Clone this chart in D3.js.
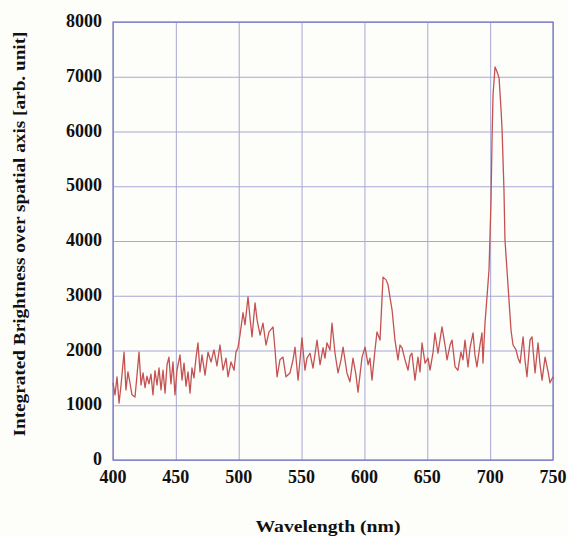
<!DOCTYPE html>
<html>
<head>
<meta charset="utf-8">
<script src="https://cdn.jsdelivr.net/npm/d3@7"></script>
<style>
  body { margin: 0; background: #fdfdfa; }
  svg { display: block; }
  .tick-label { font-family: "Times New Roman", "Liberation Serif", Times, serif; font-weight: bold; font-size: 18px; fill: #111; }
  .axis-title { font-family: "Times New Roman", "Liberation Serif", Times, serif; font-weight: bold; font-size: 16px; fill: #111; }
</style>
</head>
<body>
<div id="chart"></div>
<script>
var svgWidth = 568;
var svgHeight = 536;

var margin = { top: 22, right: 15, bottom: 76, left: 113 };
var width = svgWidth - margin.left - margin.right;
var height = svgHeight - margin.top - margin.bottom;

// data
var wavelength = [400,401.6,403.2,404.8,406.4,408.8,410.3,411.9,413.5,415.1,417.5,419.1,420.7,422.3,423.9,425.5,427,428.6,430.2,431.8,433.4,435,436.6,438.2,439.8,441.4,443,444.5,446.1,447.7,449.3,450.9,453.3,454.9,456.5,458.1,459.7,461.3,462.8,464.4,466,467.6,469.2,
  470.8,473.2,475.6,478,480.3,482.7,485.1,487.5,489.9,491.5,493.9,496.3,497.8,499.4,501,503.4,505,507.4,509,510.6,513,514.6,517,519.3,521.7,524.1,527.3,528.9,530.5,532.8,535.2,
  537.6,540.8,543.2,544.8,547.2,548.8,550.3,552.7,554.3,556.7,559.1,562.3,564.7,567.1,568.6,570.2,572.6,574.2,576.6,579,581.4,583,586.1,588.5,590.9,593.3,594.9,598.1,600.5,
  602.9,604.4,606,608.4,610,612.4,614.8,617.2,618.8,620.4,622,624.3,626.7,628.3,629.9,632.3,634.7,636.3,637.8,640.2,642.6,644.2,645.8,648.2,650.6,652.2,654.6,656.1,658.5,660.1,661.7,664.1,665.7,668.1,669.7,672.1,
  674.4,676.8,678.4,680,682.4,684,686.4,687.9,689.5,691.9,693.5,694.3,695.9,697.5,699.1,700.7,701.5,702.3,703.9,705.5,707.1,708.7,709.5,711,711.8,713.4,715,716.6,718.2,720.6,722.2,723.8,726.2,727.7,729.3,731.7,733.3,735.7,738.1,739.7,741.3,743.7,746.1,747.6,750];

var brightness = [1410,1190,1520,1040,1370,1970,1280,1610,1410,1190,1150,1550,1970,1370,1590,1320,1530,1390,1570,1190,1630,1370,1680,1280,1640,1220,1740,1880,1390,1790,1190,1640,1920,1460,1770,1350,1610,1220,1680,1500,1860,2140,1610,
  1920,1550,1970,1790,2010,1720,2100,1640,1860,1520,1790,1640,1970,2050,2280,2690,2470,2980,2590,2250,2870,2560,2280,2500,2100,2340,2430,2010,1520,1830,1880,
  1520,1590,1830,2060,1460,1830,2230,1640,1860,1950,1680,2190,1740,2050,1860,2140,2010,2500,1950,1590,1830,2060,1590,1430,1860,1550,1240,1880,2060,
  1740,1860,1460,2010,2340,2190,3340,3290,3200,2960,2740,2190,1830,2100,2050,1830,1640,1900,1950,1460,1880,1610,2140,1770,1860,1640,1970,2320,1950,2190,2430,2100,1830,2100,2190,1700,
  1640,1970,1830,2190,1700,2050,2320,1920,1700,2100,2320,1770,2500,2980,3470,4750,5850,6670,7180,7090,6980,6390,6030,4930,4020,3470,2920,2370,2100,2010,1860,1770,2250,1830,1520,2190,2250,1590,2140,1740,1460,1880,1610,1410,1520];

var xTicks = [400, 450, 500, 550, 600, 650, 700, 750];
var yTicks = [0, 1000, 2000, 3000, 4000, 5000, 6000, 7000, 8000];

var svg = d3.select("#chart")
    .append("svg")
    .attr("width", svgWidth)
    .attr("height", svgHeight);

var chartGroup = svg.append("g")
    .attr("transform", `translate(${margin.left}, ${margin.top})`);

var xScale = d3.scaleLinear().domain([400, 750]).range([0, width]);
var yScale = d3.scaleLinear().domain([0, 8000]).range([height, 0]);

// grid
chartGroup.append("g")
    .call(d3.axisBottom(xScale).tickValues(xTicks).tickSize(-height).tickFormat(""))
    .attr("transform", `translate(0,${height})`)
    .call(g => g.select(".domain").remove())
    .selectAll("line").attr("stroke", "#a8a8d4").attr("stroke-width", 1);

chartGroup.append("g")
    .call(d3.axisLeft(yScale).tickValues(yTicks).tickSize(-width).tickFormat(""))
    .call(g => g.select(".domain").remove())
    .selectAll("line").attr("stroke", "#a8a8d4").attr("stroke-width", 1);

// frame
chartGroup.append("rect")
    .attr("x", 0).attr("y", 0)
    .attr("width", width).attr("height", height)
    .attr("fill", "none")
    .attr("stroke", "#7474c4")
    .attr("stroke-width", 1.2);

// tick labels
chartGroup.selectAll(".xlab")
    .data(xTicks)
    .enter()
    .append("text")
    .attr("class", "tick-label")
    .attr("x", d => xScale(d))
    .attr("y", height + 23)
    .attr("text-anchor", "middle")
    .text(d => d);

chartGroup.selectAll(".ylab")
    .data(yTicks)
    .enter()
    .append("text")
    .attr("class", "tick-label")
    .attr("x", -11)
    .attr("y", d => yScale(d) + 5)
    .attr("text-anchor", "end")
    .text(d => d);

// spectrum
var line = d3.line()
    .x((d, i) => xScale(wavelength[i]))
    .y(d => yScale(d));

chartGroup.append("path")
    .datum(brightness)
    .attr("d", line)
    .attr("fill", "none")
    .attr("stroke", "#c45252")
    .attr("stroke-width", 1.3)
    .attr("stroke-linejoin", "round");

// axis titles
svg.append("text")
    .attr("class", "axis-title")
    .attr("x", margin.left + width / 2 - 5)
    .attr("y", 532)
    .attr("text-anchor", "middle")
    .attr("textLength", 145)
    .attr("lengthAdjust", "spacingAndGlyphs")
    .text("Wavelength (nm)");

svg.append("text")
    .attr("class", "axis-title")
    .attr("transform", "translate(25, 234) rotate(-90)")
    .attr("text-anchor", "middle")
    .attr("textLength", 405)
    .attr("lengthAdjust", "spacingAndGlyphs")
    .text("Integrated Brightness over spatial axis [arb. unit]");
</script>
</body>
</html>
